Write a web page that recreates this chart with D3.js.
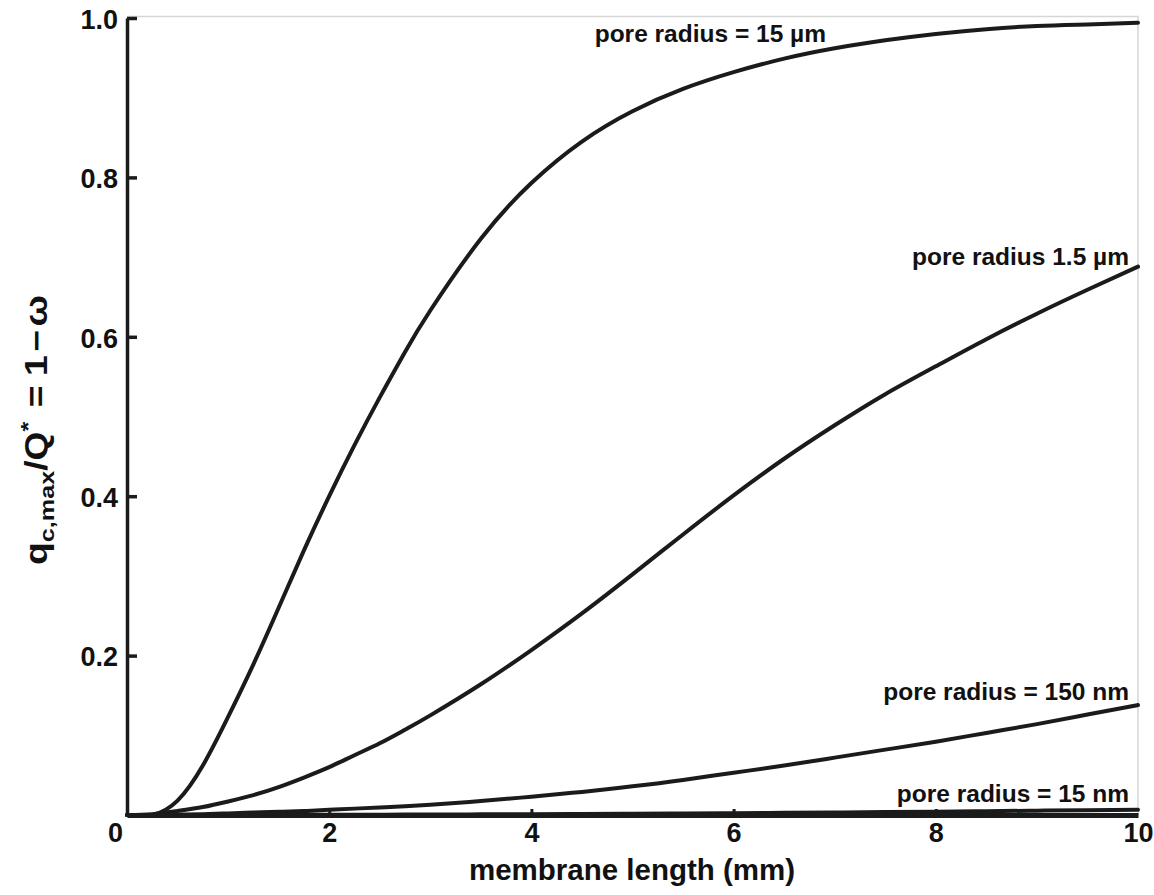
<!DOCTYPE html>
<html>
<head>
<meta charset="utf-8">
<script src="https://cdn.jsdelivr.net/npm/d3@7"></script>
<style>
  html, body { margin: 0; padding: 0; background: #fff; }
  svg text { font-family: "Liberation Sans", Arial, Helvetica, sans-serif; font-weight: bold; fill: #111; }
</style>
</head>
<body>
<svg id="chart" width="1154" height="895"></svg>
<script>
// membrane length (mm) sampled along the x axis
const lengthMM = [0, 0.25, 0.5, 0.75, 1, 1.25, 1.5, 1.75, 2, 2.25, 2.5, 2.75, 3, 3.5, 4, 4.5, 5, 5.5, 6, 6.5, 7, 7.5, 8, 8.5, 9, 9.5, 10];

// q_c,max / Q* for each pore radius
const radius15um  = [0, 0.0, 0.018, 0.062, 0.123, 0.189, 0.260, 0.332, 0.400, 0.464, 0.524, 0.581, 0.633, 0.723, 0.793, 0.845, 0.883, 0.911, 0.932, 0.949, 0.962, 0.972, 0.980, 0.986, 0.990, 0.992, 0.994];
const radius1_5um = [0, 0.001, 0.005, 0.010, 0.017, 0.025, 0.035, 0.047, 0.060, 0.075, 0.090, 0.107, 0.125, 0.164, 0.207, 0.253, 0.302, 0.352, 0.401, 0.447, 0.489, 0.528, 0.563, 0.597, 0.629, 0.659, 0.688];
const radius150nm = [0, 0, 0.0005, 0.001, 0.002, 0.003, 0.004, 0.005, 0.0065, 0.008, 0.0095, 0.011, 0.013, 0.0175, 0.023, 0.029, 0.036, 0.044, 0.053, 0.062, 0.072, 0.082, 0.092, 0.103, 0.114, 0.126, 0.138];
const radius15nm  = [0, 0, 0, 0.0001, 0.0001, 0.0001, 0.0002, 0.0002, 0.0003, 0.0003, 0.0004, 0.0005, 0.0006, 0.0008, 0.001, 0.0013, 0.0016, 0.0019, 0.0023, 0.0027, 0.0032, 0.0037, 0.0042, 0.0048, 0.0054, 0.006, 0.0067];

const seriesLabels = ["pore radius = 15 \u00b5m", "pore radius 1.5 \u00b5m", "pore radius = 150 nm", "pore radius = 15 nm"];
const xTicks = [0, 2, 4, 6, 8, 10];
const yTicks = [0.2, 0.4, 0.6, 0.8, 1.0];

const series = [radius15um, radius1_5um, radius150nm, radius15nm].map((vals, i) => ({
  label: seriesLabels[i],
  points: lengthMM.map((L, j) => [L, vals[j]])
}));

const svg = d3.select("#chart");
const x = d3.scaleLinear().domain([0, 10]).range([127, 1138]);
const y = d3.scaleLinear().domain([0, 1]).range([815, 18]);

// light frame around the plotting area
svg.append("path")
  .attr("d", `M${x(0)},${y(1) - 1.5}H${x(10)}V${y(0)}`)
  .attr("fill", "none").attr("stroke", "#d6d6d6").attr("stroke-width", 1.5);

// curves
const line = d3.line().x(d => x(d[0])).y(d => y(d[1])).curve(d3.curveNatural);
svg.append("g").selectAll("path").data(series).join("path")
  .attr("d", d => line(d.points))
  .attr("fill", "none").attr("stroke", "#1b1b1b").attr("stroke-width", 4)
  .attr("stroke-linecap", "round");

// y axis
const yAxis = svg.append("g").attr("transform", `translate(${x(0)},0)`)
  .call(d3.axisLeft(y).tickValues(yTicks).tickSize(-10).tickSizeOuter(0).tickPadding(9).tickFormat(d3.format(".1f")));
yAxis.select(".domain").attr("stroke", "#1b1b1b").attr("stroke-width", 3.5);
yAxis.selectAll(".tick line").attr("stroke", "#1b1b1b").attr("stroke-width", 3.5);
yAxis.selectAll(".tick text").style("font-size", "27px").attr("dy", "0.38em").attr("fill", "#111");

// x axis
const xAxis = svg.append("g").attr("transform", `translate(0,${y(0)})`)
  .call(d3.axisBottom(x).tickValues(xTicks).tickSize(-6).tickSizeOuter(0).tickPadding(8).tickFormat(d3.format("d")));
xAxis.select(".domain").attr("stroke", "#1b1b1b").attr("stroke-width", 5);
xAxis.selectAll(".tick line").attr("stroke", "#1b1b1b").attr("stroke-width", 3)
  .attr("display", d => (d === 0 || d === 10) ? "none" : null);
xAxis.selectAll(".tick text").style("font-size", "27px").attr("fill", "#111")
  .attr("dx", d => d === 0 ? -12 : 0);

// curve annotations
const annot = [
  { x: 826, y: 42 },
  { x: 1129, y: 265 },
  { x: 1129, y: 700 },
  { x: 1129, y: 802 }
];
svg.append("g").selectAll("text").data(series).join("text")
  .attr("x", (d, i) => annot[i].x).attr("y", (d, i) => annot[i].y)
  .attr("text-anchor", "end").style("font-size", "24.5px")
  .text(d => d.label);

// axis titles
svg.append("text").attr("x", 632).attr("y", 880).attr("text-anchor", "middle")
  .style("font-size", "29.5px").text("membrane length (mm)");

const yt = svg.append("text").attr("transform", "translate(47,430) rotate(-90) scale(1.2,1)")
  .attr("text-anchor", "middle").style("font-size", "31px");
yt.append("tspan").text("q");
yt.append("tspan").attr("dy", 7).style("font-size", "21px").text("c,max");
yt.append("tspan").attr("dy", -7).text("/Q");
yt.append("tspan").attr("dy", -12).style("font-size", "21px").text("*");
yt.append("tspan").attr("dy", 12).attr("dx", 12).text("=");
yt.append("tspan").attr("dx", 8).text("1");
yt.append("tspan").attr("dx", 3).text("\u2212");
yt.append("tspan").attr("dx", 3).text("\u03c9");
</script>
</body>
</html>
